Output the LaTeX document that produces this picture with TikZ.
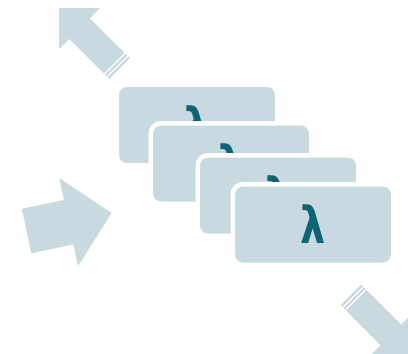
\documentclass[tikz,border=0pt]{standalone}
\usepackage{fontspec}
\newfontfamily\lamfont{DejaVu Sans}
\definecolor{cardc}{HTML}{C9D9E0}
\definecolor{lamc}{HTML}{0D6475}
\newcommand{\lam}{\scalebox{0.78}[1]{λ}}
\begin{document}
\begin{tikzpicture}[x=1pt,y=-1pt,
  card/.style={fill=cardc, draw=white, line width=4.5pt, rounded corners=10pt,
    minimum width=160.5pt, minimum height=80.5pt, inner sep=0pt, text=lamc,
    font=\lamfont\bfseries\fontsize{51}{51}\selectfont},
  arrowbody/.style={fill=cardc, draw=none}]
\useasboundingbox (0,0) rectangle (408,354);
\clip (0,0) rectangle (408,354);
% diagonal arrow shape (tip at origin, pointing +x)
\def\diagarrow{%
  \fill[arrowbody] (0,0) -- (-29,29) -- (-29,14.5) -- (-78,14.5) -- (-78,-14.5)
    -- (-29,-14.5) -- (-29,-29) -- cycle;
  \fill[arrowbody] (-79.6,14.5) rectangle (-81.8,-14.5);
  \fill[arrowbody] (-83.4,14.5) rectangle (-85.6,-14.5);}
\begin{scope}[shift={(59,8)}, rotate=135]
  \diagarrow
\end{scope}
\begin{scope}[shift={(411.5,355.5)}, rotate=-45]
  \diagarrow
\end{scope}
% big right arrow
\begin{scope}[shift={(111.7,213)}, rotate=12]
  \fill[arrowbody] (0,0) -- (-44,45) -- (-44,22.7) -- (-87,22.7) -- (-87,-22.7)
    -- (-44,-22.7) -- (-44,-45) -- cycle;
\end{scope}
% cards
\node[card] (c1) at (197,125) {\lam};
\node[card] (c2) at (231,163.5) {\lam};
\node[card] (c3) at (278,195.5) {\lam};
\node[card] (c4) at (313,224.5) {\lam};
\end{tikzpicture}
\end{document}
